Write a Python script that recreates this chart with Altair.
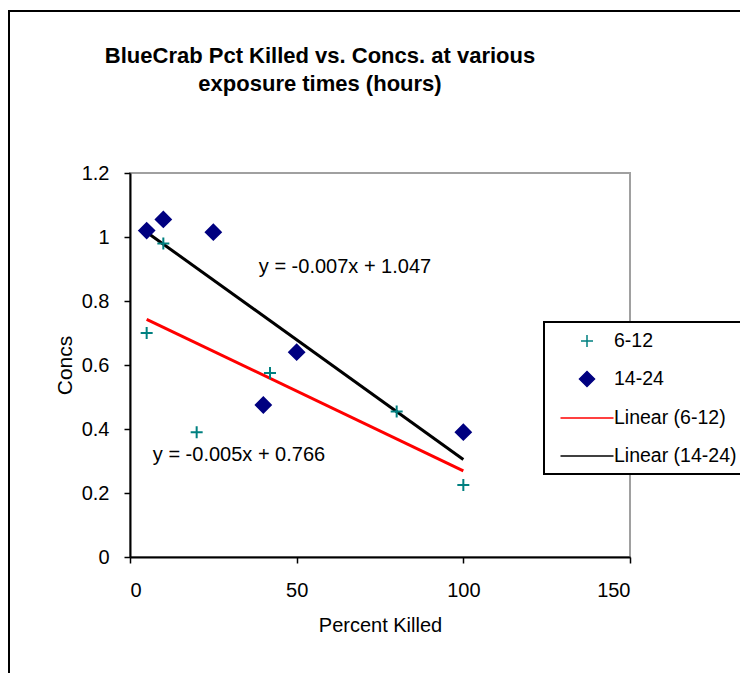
import altair as alt
import pandas as pd

# ---- data ----
x_6_12 = [5, 10, 20, 42, 80, 100]
y_6_12 = [0.70, 0.98, 0.39, 0.575, 0.455, 0.225]
x_14_24 = [5, 10, 25, 40, 50, 100]
y_14_24 = [1.02, 1.055, 1.015, 0.475, 0.64, 0.39]

series_names = ["6-12", "14-24"]
legend_labels = ["6-12", "14-24", "Linear (6-12)", "Linear (14-24)"]
legend_colors = ["#008080", "#000080", "#ff0000", "#000000"]
legend_fills = ["transparent", "#000080", "transparent", "transparent"]
legend_shapes = [
    "M-0.6,0H0.6M0,-0.6V0.6",
    "M-0.75,0L0,-0.75L0.75,0L0,0.75Z",
    "M-2.65,0H2.65",
    "M-2.65,0H2.65",
]

eq_text = ["y = -0.007x + 1.047", "y = -0.005x + 0.766"]
eq_x = [64.5, 32.7]
eq_y = [0.905, 0.32]

x_ticks = [0, 50, 100, 150]
y_ticks = [0, 0.2, 0.4, 0.6, 0.8, 1.0, 1.2]

FONT = "Liberation Sans, Arial, sans-serif"

pts = pd.DataFrame(
    {
        "x": x_6_12 + x_14_24,
        "y": y_6_12 + y_14_24,
        "series": [series_names[0]] * len(x_6_12) + [series_names[1]] * len(x_14_24),
    }
)
pts["label"] = pts["series"]

eqs = pd.DataFrame({"text": eq_text, "x": eq_x, "y": eq_y})

xscale = alt.Scale(domain=[0, 150], nice=False)
yscale = alt.Scale(domain=[0, 1.2], nice=False)

stroke_enc = alt.Stroke(
    "label:N",
    scale=alt.Scale(domain=legend_labels, range=legend_colors),
    legend=alt.Legend(title=None),
)

base = alt.Chart(pts)

points = base.mark_point(size=400, strokeWidth=2, opacity=1, filled=False).encode(
    x=alt.X("x:Q", scale=xscale, title="Percent Killed",
            axis=alt.Axis(values=x_ticks, labelPadding=17, titlePadding=15)),
    y=alt.Y("y:Q", scale=yscale, title="Concs",
            axis=alt.Axis(values=y_ticks, format="~g", labelPadding=15, titlePadding=6,
                          titleFontSize=21)),
    stroke=stroke_enc,
    fill=alt.Fill("label:N", scale=alt.Scale(domain=legend_labels, range=legend_fills), legend=alt.Legend(title=None)),
    shape=alt.Shape("label:N", scale=alt.Scale(domain=legend_labels, range=legend_shapes), legend=alt.Legend(title=None)),
)

lines = (
    base.transform_regression("x", "y", groupby=["series"])
    .transform_calculate(label="'Linear (' + datum.series + ')'")
    .mark_line(strokeWidth=3)
    .encode(x=alt.X("x:Q", scale=xscale), y=alt.Y("y:Q", scale=yscale), stroke=stroke_enc)
)

texts = alt.Chart(eqs).mark_text(fontSize=20, font=FONT, color="black", align="center", baseline="middle").encode(
    x=alt.X("x:Q", scale=xscale), y=alt.Y("y:Q", scale=yscale), text="text:N"
)

frame = alt.Chart(alt.Data(values=[{}])).mark_rect(fill="transparent", stroke="black", strokeWidth=2).encode(
    x=alt.value(-121), x2=alt.value(700), y=alt.value(-162), y2=alt.value(600)
)

chart = (
    alt.layer(frame, lines, points, texts)
    .properties(
        width=500,
        height=384,
        padding={"left": 122, "top": 165, "right": 110, "bottom": 116},
        autosize=alt.AutoSizeParams(type="none"),
        title=alt.TitleParams(
            text=["BlueCrab Pct Killed vs. Concs. at various", "exposure times (hours)"],
            fontSize=22,
            fontWeight="bold",
            font=FONT,
            color="black",
            anchor="middle",
            dx=-60,
            offset=-86,
            lineHeight=28,
        ),
    )
    .configure_view(stroke="#a0a0a0", strokeWidth=2)
    .configure_axis(
        grid=False,
        domainColor="black",
        domainWidth=2,
        tickColor="black",
        tickWidth=1.5,
        tickSize=6,
        labelFont=FONT,
        labelFontSize=20,
        labelColor="black",
        titleFont=FONT,
        titleFontSize=20,
        titleFontWeight="normal",
        titleColor="black",
    )
    .configure_legend(
        orient="none",
        legendX=414,
        legendY=149,
        strokeColor="black",
        strokeWidth=2,
        padding=8,
        symbolOffset=24,
        symbolSize=400,
        symbolStrokeWidth=1.5,
        symbolOpacity=1,
        labelFont=FONT,
        labelFontSize=19.5,
        labelColor="black",
        labelOffset=16,
        rowPadding=17,
        fillColor="white",
    )
)

chart.save("out.html", embed_options={"renderer": "svg", "actions": False})
